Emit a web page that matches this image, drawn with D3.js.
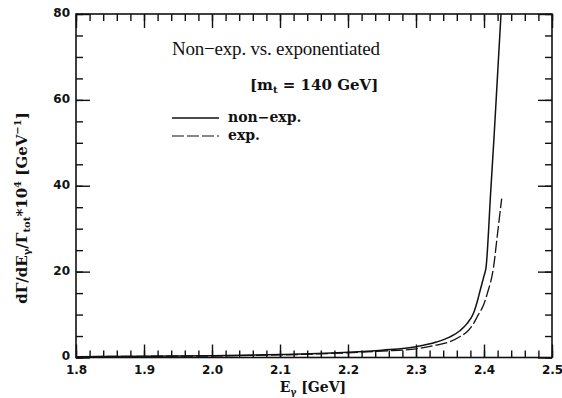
<!DOCTYPE html>
<html>
<head>
<meta charset="utf-8">
<script src="https://cdn.jsdelivr.net/npm/d3@7"></script>
<style>
  body { margin: 0; background: #fff; }
  svg { display: block; }
  .tick text { font-family: "DejaVu Sans", sans-serif; font-weight: bold; font-size: 12px; fill: #111; }
  .serif { font-family: "DejaVu Serif", "Liberation Serif", serif; fill: #111; }
</style>
</head>
<body>
<script>
// photon energy (GeV) and spectrum values
const energyNonExp = [1.80, 1.90, 2.00, 2.10, 2.20, 2.25, 2.30, 2.33, 2.35, 2.365, 2.375, 2.385, 2.39, 2.395, 2.40, 2.403, 2.41, 2.415, 2.42, 2.425];
const nonExp       = [0.20, 0.30, 0.40, 0.70, 1.20, 1.70, 2.50, 3.60, 4.80, 6.30, 7.90, 10.5, 13.0, 16.0, 19.0, 21.0, 39.0, 52.0, 66.0, 80.0];
const energyExp    = [1.80, 1.90, 2.00, 2.10, 2.20, 2.25, 2.30, 2.33, 2.35, 2.365, 2.375, 2.385, 2.39, 2.40, 2.405, 2.414, 2.42, 2.426];
const expd         = [0.20, 0.28, 0.35, 0.60, 1.10, 1.50, 2.00, 2.90, 3.70, 4.90, 6.00, 8.00, 9.50, 12.5, 15.0, 21.0, 29.0, 37.0];

const xMajor = [1.8, 1.9, 2.0, 2.1, 2.2, 2.3, 2.4, 2.5];
const yMajor = [0, 20, 40, 60, 80];
const legendLabels = ['non\u2212exp.', 'exp.'];

const W = 562, H = 398;
const margin = {top: 14, right: 10, bottom: 40.5, left: 76};
const width = W - margin.left - margin.right,
  height = H - margin.top - margin.bottom;

const svg = d3.select('body').append('svg')
  .attr('width', W)
  .attr('height', H);

const g = svg.append('g')
  .attr('transform', 'translate(' + margin.left + ',' + margin.top + ')');

const x = d3.scaleLinear().domain([1.8, 2.5]).range([0, width]);
const y = d3.scaleLinear().domain([0, 80]).range([height, 0]);

const xMinor = d3.range(180, 251, 2).map(d => d / 100);
const yMinor = d3.range(0, 81, 5);

function styleAxis(sel) {
  sel.select('.domain').remove();
  sel.selectAll('.tick line').attr('stroke', '#111').attr('stroke-width', 1.4);
}

// minor ticks, all four sides, pointing inward
g.append('g').attr('transform', 'translate(0,' + height + ')')
  .call(d3.axisBottom(x).tickValues(xMinor).tickSize(-7).tickFormat(''))
  .call(styleAxis);
g.append('g')
  .call(d3.axisTop(x).tickValues(xMinor).tickSize(-7).tickFormat(''))
  .call(styleAxis);
g.append('g')
  .call(d3.axisLeft(y).tickValues(yMinor).tickSize(-7).tickFormat(''))
  .call(styleAxis);
g.append('g').attr('transform', 'translate(' + width + ',0)')
  .call(d3.axisRight(y).tickValues(yMinor).tickSize(-7).tickFormat(''))
  .call(styleAxis);

// major ticks with labels
g.append('g').attr('transform', 'translate(0,' + height + ')')
  .call(d3.axisBottom(x).tickValues(xMajor).tickSize(-13).tickPadding(8).tickFormat(d3.format('.1f')))
  .call(styleAxis);
g.append('g')
  .call(d3.axisTop(x).tickValues(xMajor).tickSize(-14).tickFormat(''))
  .call(styleAxis);
g.append('g')
  .call(d3.axisLeft(y).tickValues(yMajor).tickSize(-14).tickFormat(d3.format('d')))
  .call(styleAxis)
  .selectAll('text').attr('x', -6).attr('dy', '0.2em');
g.append('g').attr('transform', 'translate(' + width + ',0)')
  .call(d3.axisRight(y).tickValues(yMajor).tickSize(-14).tickFormat(''))
  .call(styleAxis);

// frame
g.append('rect')
  .attr('width', width).attr('height', height)
  .attr('fill', 'none').attr('stroke', '#111').attr('stroke-width', 1.6);

const line = d3.line()
  .x(d => x(d[0]))
  .y(d => y(d[1]))
  .curve(d3.curveMonotoneX);

g.append('path')
  .datum(d3.zip(energyNonExp, nonExp))
  .attr('d', line)
  .attr('fill', 'none').attr('stroke', '#111').attr('stroke-width', 1.5);

g.append('path')
  .datum(d3.zip(energyExp, expd))
  .attr('d', line)
  .attr('fill', 'none').attr('stroke', '#111').attr('stroke-width', 1.3)
  .attr('stroke-dasharray', '12,3');

// annotations
svg.append('text')
  .attr('x', 172).attr('y', 55)
  .attr('font-family', '"Liberation Serif", serif').attr('fill', '#111')
  .attr('font-size', 19)
  .attr('textLength', 208).attr('lengthAdjust', 'spacing')
  .text('Non\u2212exp. vs. exponentiated');

const mt = svg.append('text').attr('class', 'serif')
  .attr('x', 250).attr('y', 90)
  .attr('font-size', 15).attr('font-weight', 'bold');
mt.append('tspan').text('[m');
mt.append('tspan').attr('font-size', 10).attr('dy', 3).text('t');
mt.append('tspan').attr('dy', -3).text(' = 140 GeV]');

// legend
const legend = svg.append('g');
legendLabels.forEach((lab, i) => {
  const ly = 118 + i * 18;
  legend.append('line')
    .attr('x1', 172).attr('x2', 219).attr('y1', ly).attr('y2', ly)
    .attr('stroke', '#111').attr('stroke-width', i ? 1.2 : 1.4)
    .attr('stroke-dasharray', i ? '12,3' : null);
  legend.append('text').attr('class', 'serif')
    .attr('x', 228).attr('y', ly + 4)
    .attr('font-size', 14).attr('font-weight', 'bold')
    .text(lab);
});

// axis titles
const xt = svg.append('text').attr('class', 'serif')
  .attr('x', 313).attr('y', 392)
  .attr('text-anchor', 'middle')
  .attr('font-size', 14).attr('font-weight', 'bold');
xt.append('tspan').text('E');
xt.append('tspan').attr('font-size', 9).attr('dy', 3).text('\u03b3');
xt.append('tspan').attr('dy', -3).text(' [GeV]');

const yt = svg.append('text').attr('class', 'serif')
  .attr('transform', 'translate(27,208) rotate(-90)')
  .attr('text-anchor', 'middle')
  .attr('font-size', 15).attr('font-weight', 'bold');
yt.append('tspan').text('d\u0393/dE');
yt.append('tspan').attr('font-size', 10).attr('dy', 3).text('\u03b3');
yt.append('tspan').attr('dy', -3).text('/\u0393');
yt.append('tspan').attr('font-size', 10).attr('dy', 3).text('tot');
yt.append('tspan').attr('dy', -3).text('*10');
yt.append('tspan').attr('font-size', 10).attr('dy', -6).text('4');
yt.append('tspan').attr('dy', 6).text(' [GeV');
yt.append('tspan').attr('font-size', 10).attr('dy', -6).text('\u22121');
yt.append('tspan').attr('dy', 6).text(']');
</script>
</body>
</html>
